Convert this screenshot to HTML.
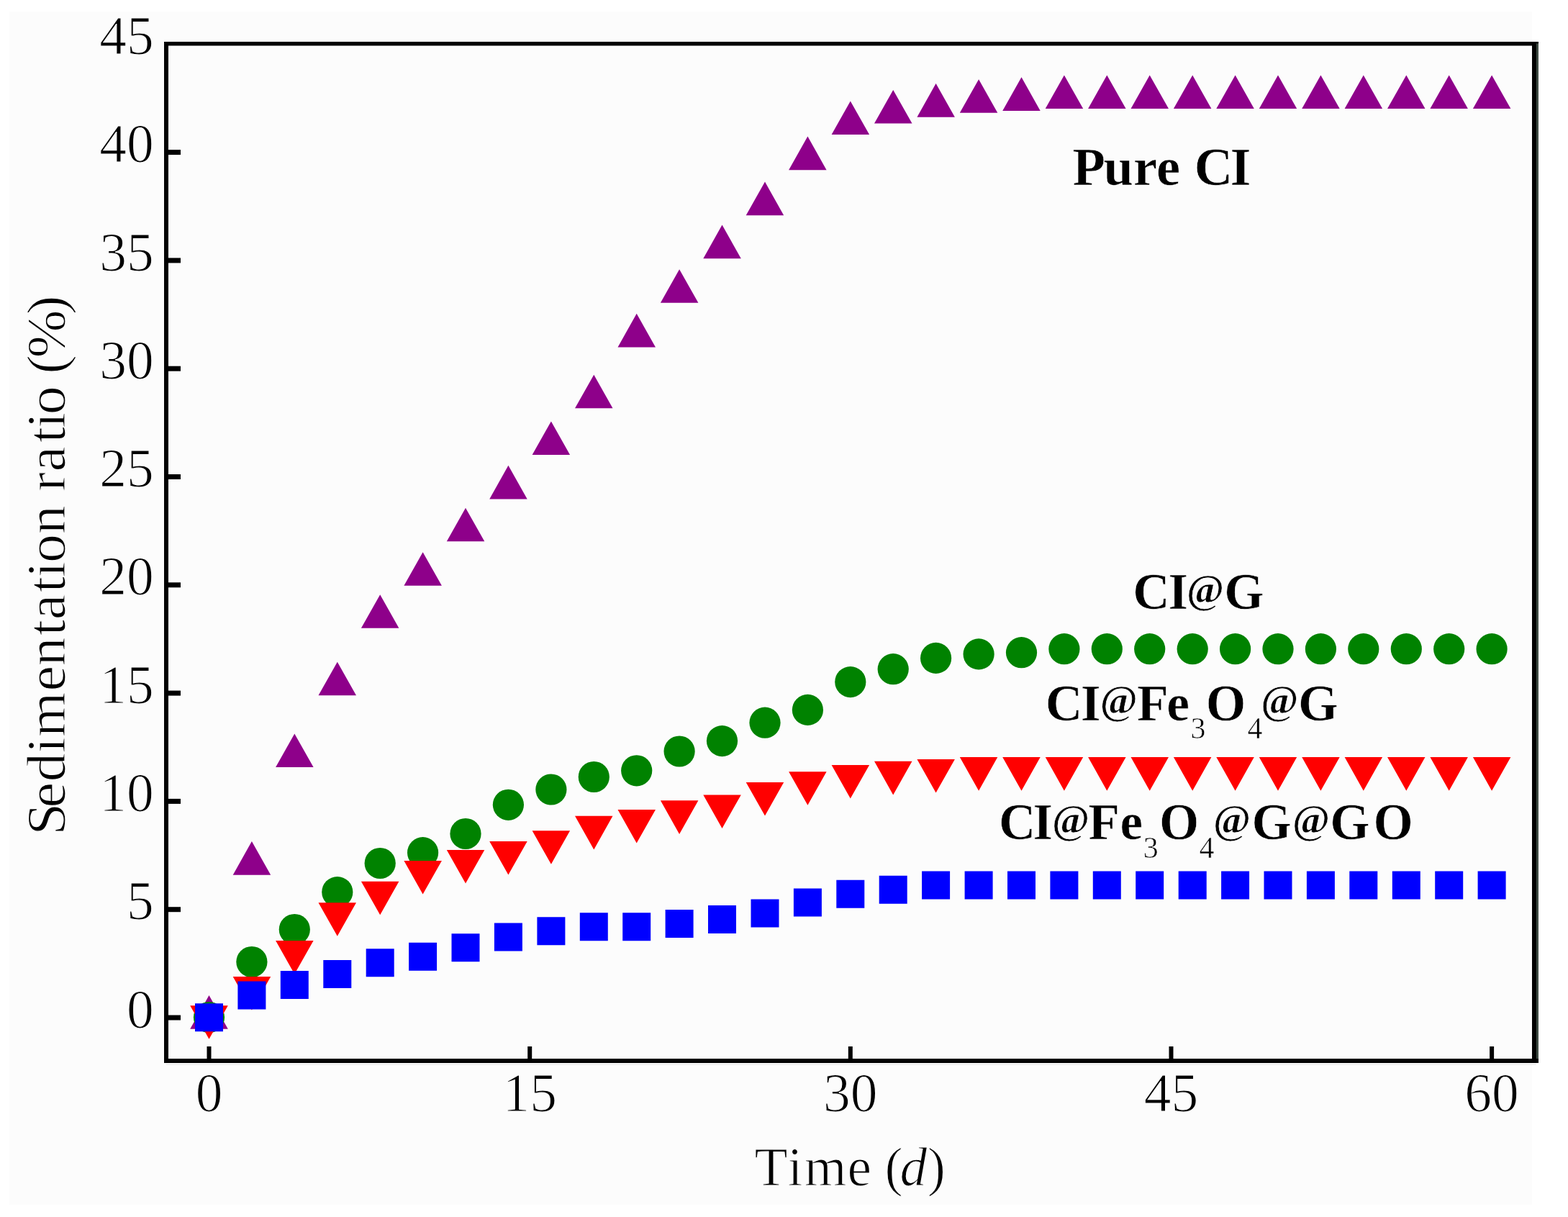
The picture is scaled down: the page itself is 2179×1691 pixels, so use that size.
<!DOCTYPE html>
<html><head><meta charset="utf-8"><title>Sedimentation ratio</title>
<style>
html,body{margin:0;padding:0;background:#fff;}
body{width:2179px;height:1691px;overflow:hidden;}
svg{display:block;}
text{font-family:"Liberation Serif",serif;fill:#000;stroke:#fcfcfc;stroke-width:1.2px;}
.b{stroke-width:0.6px;}
.b{font-weight:bold;}
</style></head><body>
<svg width="2179" height="1691" viewBox="0 0 2179 1691">
<rect width="2179" height="1691" fill="#fff"/>
<rect x="13" y="16" width="2116" height="1658" fill="#fcfcfc"/>
<path fill="#8e008a" d="M290.5 1383.1L316.8 1429.7L264.2 1429.7ZM349.9 1169.1L376.2 1215.7L323.7 1215.7ZM409.3 1019.5L435.6 1066.1L383.1 1066.1ZM468.8 919.7L495 966.3L442.5 966.3ZM528.2 826.2L554.4 872.8L501.9 872.8ZM587.6 767.2L613.9 813.8L561.4 813.8ZM647 705.7L673.3 752.3L620.8 752.3ZM706.4 646.8L732.7 693.4L680.2 693.4ZM765.9 585.4L792.1 632L739.6 632ZM825.3 520.7L851.5 567.3L799 567.3ZM884.7 435.8L911 482.4L858.5 482.4ZM944.1 374.2L970.4 420.8L917.9 420.8ZM1003.5 312.6L1029.8 359.2L977.3 359.2ZM1063 252.6L1089.2 299.2L1036.7 299.2ZM1122.4 189.6L1148.6 236.2L1096.1 236.2ZM1181.8 140.4L1208.1 187L1155.6 187ZM1241.2 125L1267.5 171.6L1215 171.6ZM1300.6 116.1L1326.9 162.7L1274.4 162.7ZM1360.1 110.2L1386.3 156.8L1333.8 156.8ZM1419.5 107.3L1445.7 153.9L1393.2 153.9ZM1478.9 104.4L1505.2 151L1452.7 151ZM1538.3 104.4L1564.6 151L1512.1 151ZM1597.7 104.4L1624 151L1571.5 151ZM1657.2 104.4L1683.4 151L1630.9 151ZM1716.6 104.4L1742.8 151L1690.3 151ZM1776 104.4L1802.2 151L1749.8 151ZM1835.4 104.4L1861.7 151L1809.2 151ZM1894.8 104.4L1921.1 151L1868.6 151ZM1954.3 104.4L1980.5 151L1928 151ZM2013.7 104.4L2039.9 151L1987.4 151ZM2073.1 104.4L2099.4 151L2046.9 151Z"/>
<g fill="#008200"><circle cx="290.5" cy="1413.5" r="21.6"/><circle cx="349.9" cy="1336.5" r="21.6"/><circle cx="409.3" cy="1291.5" r="21.6"/><circle cx="468.8" cy="1239.6" r="21.6"/><circle cx="528.2" cy="1199.5" r="21.6"/><circle cx="587.6" cy="1184.7" r="21.6"/><circle cx="647" cy="1158.5" r="21.6"/><circle cx="706.4" cy="1118.3" r="21.6"/><circle cx="765.9" cy="1097" r="21.6"/><circle cx="825.3" cy="1079.5" r="21.6"/><circle cx="884.7" cy="1070.8" r="21.6"/><circle cx="944.1" cy="1044" r="21.6"/><circle cx="1003.5" cy="1029.6" r="21.6"/><circle cx="1063" cy="1004.2" r="21.6"/><circle cx="1122.4" cy="986.4" r="21.6"/><circle cx="1181.8" cy="947.6" r="21.6"/><circle cx="1241.2" cy="929.7" r="21.6"/><circle cx="1300.6" cy="914.4" r="21.6"/><circle cx="1360.1" cy="908.9" r="21.6"/><circle cx="1419.5" cy="906.7" r="21.6"/><circle cx="1478.9" cy="901.7" r="21.6"/><circle cx="1538.3" cy="901.7" r="21.6"/><circle cx="1597.7" cy="901.7" r="21.6"/><circle cx="1657.2" cy="901.7" r="21.6"/><circle cx="1716.6" cy="901.7" r="21.6"/><circle cx="1776" cy="901.7" r="21.6"/><circle cx="1835.4" cy="901.7" r="21.6"/><circle cx="1894.8" cy="901.7" r="21.6"/><circle cx="1954.3" cy="901.7" r="21.6"/><circle cx="2013.7" cy="901.7" r="21.6"/><circle cx="2073.1" cy="901.7" r="21.6"/></g>
<path fill="#ff0000" d="M264.2 1397.2L316.8 1397.2L290.5 1443.8ZM323.7 1356.9L376.2 1356.9L349.9 1403.5ZM383.1 1307L435.6 1307L409.3 1353.6ZM442.5 1254.2L495 1254.2L468.8 1300.8ZM501.9 1224.7L554.4 1224.7L528.2 1271.3ZM561.4 1195.9L613.9 1195.9L587.6 1242.5ZM620.8 1181L673.3 1181L647 1227.6ZM680.2 1169L732.7 1169L706.4 1215.6ZM739.6 1154.2L792.1 1154.2L765.9 1200.8ZM799 1133.8L851.5 1133.8L825.3 1180.4ZM858.5 1124.9L911 1124.9L884.7 1171.5ZM917.9 1112.3L970.4 1112.3L944.1 1158.9ZM977.3 1104.4L1029.8 1104.4L1003.5 1151ZM1036.7 1087L1089.2 1087L1063 1133.6ZM1096.1 1072.2L1148.6 1072.2L1122.4 1118.8ZM1155.6 1062.9L1208.1 1062.9L1181.8 1109.5ZM1215 1057.8L1267.5 1057.8L1241.2 1104.4ZM1274.4 1054.9L1326.9 1054.9L1300.6 1101.5ZM1333.8 1052.1L1386.3 1052.1L1360.1 1098.7ZM1393.2 1052.1L1445.7 1052.1L1419.5 1098.7ZM1452.7 1052.1L1505.2 1052.1L1478.9 1098.7ZM1512.1 1052.1L1564.6 1052.1L1538.3 1098.7ZM1571.5 1052.1L1624 1052.1L1597.7 1098.7ZM1630.9 1052.1L1683.4 1052.1L1657.2 1098.7ZM1690.3 1052.1L1742.8 1052.1L1716.6 1098.7ZM1749.8 1052.1L1802.2 1052.1L1776 1098.7ZM1809.2 1052.1L1861.7 1052.1L1835.4 1098.7ZM1868.6 1052.1L1921.1 1052.1L1894.8 1098.7ZM1928 1052.1L1980.5 1052.1L1954.3 1098.7ZM1987.4 1052.1L2039.9 1052.1L2013.7 1098.7ZM2046.9 1052.1L2099.4 1052.1L2073.1 1098.7Z"/>
<path fill="#0000ff" d="M271 1394.3h39v39h-39ZM330.4 1363.5h39v39h-39ZM389.8 1349h39v39h-39ZM449.3 1334.1h39v39h-39ZM508.7 1318.2h39v39h-39ZM568.1 1309.7h39v39h-39ZM627.5 1297.3h39v39h-39ZM686.9 1282.5h39v39h-39ZM746.4 1274.2h39v39h-39ZM805.8 1268.2h39v39h-39ZM865.2 1268.2h39v39h-39ZM924.6 1264h39v39h-39ZM984 1258h39v39h-39ZM1043.5 1249.4h39v39h-39ZM1102.9 1234.6h39v39h-39ZM1162.3 1222.7h39v39h-39ZM1221.7 1216.7h39v39h-39ZM1281.1 1210.5h39v39h-39ZM1340.6 1210.5h39v39h-39ZM1400 1210.5h39v39h-39ZM1459.4 1210.5h39v39h-39ZM1518.8 1210.5h39v39h-39ZM1578.2 1210.5h39v39h-39ZM1637.7 1210.5h39v39h-39ZM1697.1 1210.5h39v39h-39ZM1756.5 1210.5h39v39h-39ZM1815.9 1210.5h39v39h-39ZM1875.3 1210.5h39v39h-39ZM1934.8 1210.5h39v39h-39ZM1994.2 1210.5h39v39h-39ZM2053.6 1210.5h39v39h-39Z"/>
<rect x="228" y="58" width="6" height="1419" fill="#000"/>
<rect x="228" y="58" width="1910" height="5.5" fill="#000"/>
<rect x="2129" y="58" width="6" height="1419" fill="#000"/>
<rect x="2135" y="60.5" width="3" height="1416.5" fill="#3d4a42"/>
<rect x="230.7" y="1478.4" width="1904" height="1.5" fill="#ececec"/>
<rect x="228" y="1471" width="1910" height="6" fill="#000"/>
<rect x="233" y="1410.5" width="18" height="7" fill="#000"/>
<rect x="233" y="1260.2" width="18" height="7" fill="#000"/>
<rect x="233" y="1109.9" width="18" height="7" fill="#000"/>
<rect x="233" y="959.6" width="18" height="7" fill="#000"/>
<rect x="233" y="809.3" width="18" height="7" fill="#000"/>
<rect x="233" y="659" width="18" height="7" fill="#000"/>
<rect x="233" y="508.7" width="18" height="7" fill="#000"/>
<rect x="233" y="358.4" width="18" height="7" fill="#000"/>
<rect x="233" y="208.1" width="18" height="7" fill="#000"/>
<rect x="287.5" y="1454" width="6" height="18" fill="#000"/>
<rect x="733.2" y="1454" width="6" height="18" fill="#000"/>
<rect x="1178.8" y="1454" width="6" height="18" fill="#000"/>
<rect x="1624.5" y="1454" width="6" height="18" fill="#000"/>
<rect x="2070.1" y="1454" width="6" height="18" fill="#000"/>
<text x="213.8" y="1427.6" text-anchor="end" font-size="75.5">0</text>
<text x="213.8" y="1277.3" text-anchor="end" font-size="75.5">5</text>
<text x="213.8" y="1127" text-anchor="end" font-size="75.5">10</text>
<text x="213.8" y="976.7" text-anchor="end" font-size="75.5">15</text>
<text x="213.8" y="826.4" text-anchor="end" font-size="75.5">20</text>
<text x="213.8" y="676.1" text-anchor="end" font-size="75.5">25</text>
<text x="213.8" y="525.8" text-anchor="end" font-size="75.5">30</text>
<text x="213.8" y="375.5" text-anchor="end" font-size="75.5">35</text>
<text x="213.8" y="225.2" text-anchor="end" font-size="75.5">40</text>
<text x="213.8" y="74.9" text-anchor="end" font-size="75.5">45</text>
<text x="290.5" y="1544" text-anchor="middle" font-size="75.5">0</text>
<text x="736.2" y="1544" text-anchor="middle" font-size="75.5">15</text>
<text x="1181.8" y="1544" text-anchor="middle" font-size="75.5">30</text>
<text x="1627.5" y="1544" text-anchor="middle" font-size="75.5">45</text>
<text x="2073.1" y="1544" text-anchor="middle" font-size="75.5">60</text>
<text y="1646.7" font-size="75.5"><tspan x="1048.6 1094.5 1117.7 1177.4">Time</tspan> <tspan x="1229.4">(</tspan><tspan x="1250.5" font-style="italic">d</tspan><tspan x="1288.7">)</tspan></text>
<text transform="translate(89.5 0) rotate(-90) scale(1.04 1)" y="0" font-size="77"><tspan x="-1115.9 -1079.4 -1044.6 -1006.3 -984.6 -923.5 -890 -849.2 -828.1 -791.7 -771.6 -751.9 -713.8">Sedimentation</tspan> <tspan x="-656.5 -630.2 -591.5 -572.1 -554">ratio</tspan> <tspan x="-499.8 -478.1 -420.4">(%)</tspan></text>
<text class="b" font-size="74.5"><tspan x="1490.5 1533.4 1575.1 1607.1" y="256.8">Pure</tspan> <tspan x="1659.6 1709.4" y="256.8">CI</tspan></text>
<text class="b" font-size="71"><tspan x="1574.2 1623.5" y="846.4">CI</tspan><tspan x="1649.1" y="837.9" font-size="56">@</tspan><tspan x="1701.3" y="846.4">G</tspan></text>
<text class="b" font-size="71.5"><tspan x="1452.7 1501.8" y="1000.6">CI</tspan><tspan x="1528.8" y="992.1" font-size="56">@</tspan><tspan x="1580 1621.2" y="1000.6">Fe</tspan><tspan x="1654.5" y="1026.1" font-size="42" font-weight="normal">3</tspan><tspan x="1675.7" y="1000.6">O</tspan><tspan x="1733.6" y="1026.1" font-size="42" font-weight="normal">4</tspan><tspan x="1752.2" y="992.1" font-size="56">@</tspan><tspan x="1803.9" y="1000.6">G</tspan></text>
<text class="b" font-size="71"><tspan x="1387.9 1435.6" y="1166">CI</tspan><tspan x="1462" y="1157.5" font-size="56">@</tspan><tspan x="1512.6 1556.5" y="1166">Fe</tspan><tspan x="1588.8" y="1191.5" font-size="42" font-weight="normal">3</tspan><tspan x="1610.9" y="1166">O</tspan><tspan x="1666.6" y="1191.5" font-size="42" font-weight="normal">4</tspan><tspan x="1686" y="1157.5" font-size="56">@</tspan><tspan x="1739.4" y="1166">G</tspan><tspan x="1796" y="1157.5" font-size="56">@</tspan><tspan x="1848.2 1908.4" y="1166">GO</tspan></text>
</svg>
</body></html>
